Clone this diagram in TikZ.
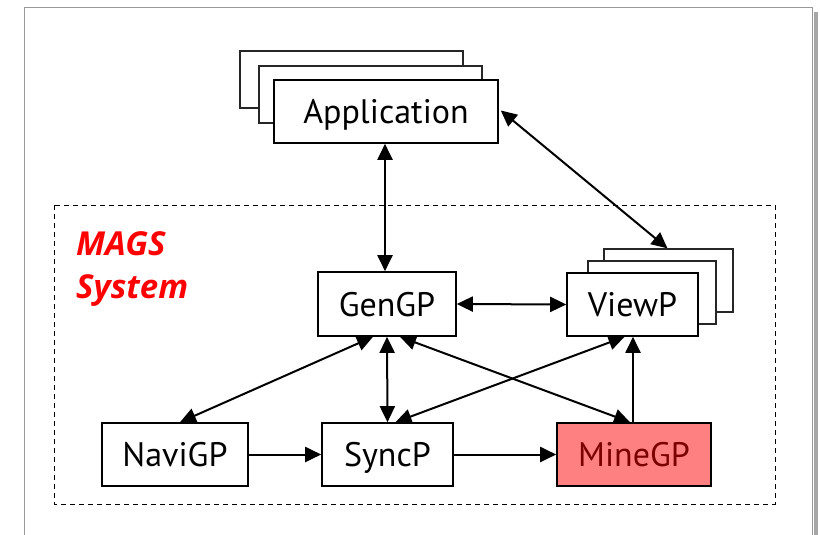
\documentclass[tikz,border=0pt]{standalone}
\usepackage{fontspec}
\setmainfont{PT Sans}
\newfontfamily\magsfont{Open Sans}
\usetikzlibrary{arrows.meta}
\definecolor{minefill}{HTML}{FF8080}
\definecolor{minetext}{HTML}{7A0000}
\begin{document}
\begin{tikzpicture}[x=1pt,y=-1pt,
  box/.style={draw=black,fill=white,line width=1.6pt,inner sep=0pt,font=\fontsize{34}{38}\selectfont,text depth=0pt},
  backbox/.style={draw=black!85,fill=white,line width=1.3pt,inner sep=0pt},
  label/.style={anchor=base west,text=red,font=\magsfont\fontsize{33}{36}\selectfont\bfseries\itshape,inner sep=0pt},
  conn/.style={line width=2pt,-{Triangle[length=16pt,width=15pt]}},
  biconn/.style={line width=2pt,{Triangle[length=16pt,width=15pt]}-{Triangle[length=16pt,width=15pt]}}]
\useasboundingbox (0,0) rectangle (820,535);
% page frame
\fill[black!35] (814,12) rectangle (818,540);
\draw[black!40,line width=1pt] (24,545) -- (24,8) -- (812,8) -- (812,545);
% dashed system box
\draw[dashed,line width=1pt,dash pattern=on 5pt off 4pt] (54,205) rectangle (775,504);
\node[label] (mags) at (76,255) {MAGS};
\node[label] (sys) at (76,298) {System};
% Application stack
\node[backbox,minimum width=223pt,minimum height=57pt] (app3) at (351.5,79.5) {};
\node[backbox,minimum width=223pt,minimum height=57pt] (app2) at (370.5,94.5) {};
\node[box,minimum width=224pt,minimum height=63pt] (app) at (386,111.5) {Application};
% ViewP stack
\node[backbox,minimum width=129pt,minimum height=63pt] (view3) at (668.5,280.5) {};
\node[backbox,minimum width=128pt,minimum height=63pt] (view2) at (652,292.5) {};
\node[box,minimum width=131pt,minimum height=63pt] (view) at (632.5,304.5) {ViewP};
% others
\node[box,minimum width=138pt,minimum height=64pt] (gen) at (387,304) {GenGP};
\node[box,minimum width=146pt,minimum height=63pt] (navi) at (175,454.5) {NaviGP};
\node[box,minimum width=131pt,minimum height=63pt] (sync) at (387.5,454.5) {SyncP};
\node[box,fill=minefill,text=minetext,minimum width=154pt,minimum height=63pt] (mine) at (634,454.5) {MineGP};
% connectors
\draw[biconn] (app.south -| 385,0) -- (gen.north -| 385,0);
\draw[biconn] ([xshift=2pt,yshift=1pt]app.east) -- ([xshift=-1pt]view3.north);
\draw[biconn] (gen.east) -- (view.west);
\draw[biconn] ([xshift=-14pt]gen.south) -- ([xshift=5pt]navi.north);
\draw[biconn] (gen.south) -- (sync.south |- sync.north);
\draw[biconn] ([xshift=13pt]gen.south) -- ([xshift=-4pt]mine.north);
\draw[biconn] ([xshift=-8pt]view.south) -- ([xshift=8pt]sync.north);
\draw[conn] ([xshift=-1pt]mine.north) -- ([xshift=0.5pt]view.south);
\draw[conn] (navi.east) -- (sync.west);
\draw[conn] (sync.east) -- (mine.west);
\end{tikzpicture}
\end{document}
